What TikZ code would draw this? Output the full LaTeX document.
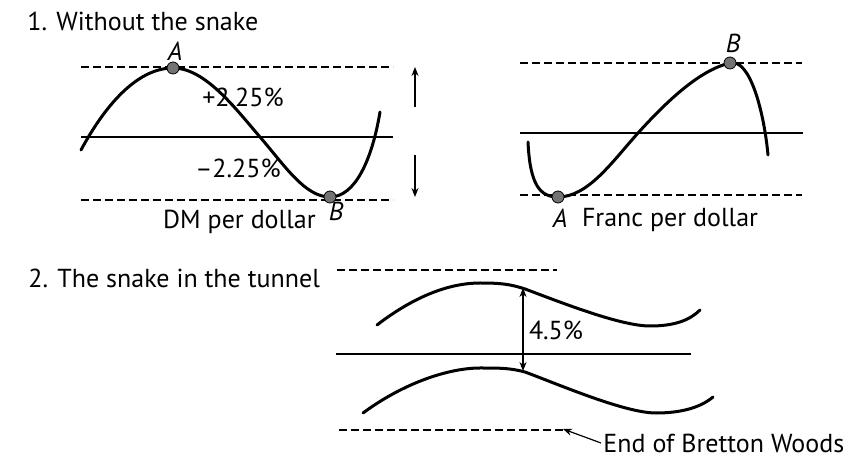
\documentclass[tikz,border=0pt]{standalone}
\usepackage{fontspec}
\setmainfont{PT Sans}
\usetikzlibrary{arrows.meta}

\begin{document}
\begin{tikzpicture}[x=0.5pt,y=-0.5pt,font=\fontsize{13}{15}\selectfont,
  band/.style={dash pattern=on 4pt off 2pt,line width=0.8pt},
  axis/.style={line width=0.8pt},
  curve/.style={line width=1.5pt,line cap=round},
  dot/.style={circle,draw=black,fill=black!55,inner sep=0pt,minimum size=6pt},
  pt/.style={font=\fontsize{13}{15}\selectfont\itshape,inner sep=1pt},
  arr/.style={-{Stealth[length=4.5pt,width=3.5pt]},line width=0.6pt}]
  \useasboundingbox (0,0) rectangle (855,458);
  % 1. without the snake, DM
  \node[anchor=west,inner sep=0pt] (t1) at (27,21) {1. Without the snake};
  \draw[band] (81,67) -- (393,67);
  \draw[band] (81,200) -- (393,200);
  \draw[axis] (81,137) -- (393,137);
  \draw[curve] (81,150) .. controls (108,100) and (140,68) .. (173,68)
    .. controls (205,68) and (235,108) .. (260,137)
    .. controls (285,166) and (305,197) .. (330,197)
    .. controls (355,197) and (372,160) .. (380,112);
  \node[dot] (dA) at (173,68) {};
  \node[dot] (dB) at (330,197) {};
  \node[pt] (lA) at (175,51) {A};
  \node[pt] (lB) at (336,211) {B};
  \node (up1) at (243,97) {+2.25\%};
  \node (dn1) at (238,168) {--2.25\%};
  \node[anchor=east,inner sep=0pt] (dm) at (316,222) {DM per dollar};
  \coordinate (a1) at (415,107);
  \coordinate (a2) at (415,67);
  \coordinate (a3) at (415,155);
  \coordinate (a4) at (415,197);
  \draw[arr] (a1) -- (a2);
  \draw[arr] (a3) -- (a4);
  % franc
  \draw[band] (520,63) -- (802,63);
  \draw[band] (520,195) -- (802,195);
  \draw[axis] (520,133) -- (803,133);
  \draw[curve] (528,142) .. controls (530,185) and (540,197) .. (558,197)
    .. controls (588,197) and (612,162) .. (638,133)
    .. controls (668,100) and (700,70) .. (730,63)
    .. controls (750,58) and (764,112) .. (768,155);
  \node[dot] (fA) at (558,197) {};
  \node[dot] (fB) at (730,63) {};
  \node[pt] (mA) at (560,218) {A};
  \node[pt] (mB) at (733,43) {B};
  \node (fr) at (670,220) {Franc per dollar};
  % 2. the snake in the tunnel
  \node[anchor=west,inner sep=0pt] (t2) at (28,278) {2. The snake in the tunnel};
  \draw[band] (337,270) -- (557,270);
  \draw[curve] (377,325) .. controls (420,292) and (455,283) .. (480,283)
    .. controls (500,283) and (510,284) .. (525,289)
    .. controls (560,302) and (620,326) .. (650,326)
    .. controls (675,326) and (690,320) .. (700,310);
  \draw[axis] (336,354) -- (691,354);
  \draw[curve] (363,413) .. controls (405,382) and (450,368) .. (480,368)
    .. controls (500,368) and (510,368) .. (525,372)
    .. controls (560,385) and (625,413) .. (656,413)
    .. controls (680,413) and (700,408) .. (713,397);
  \draw[band] (339,430) -- (563,430);
  \coordinate (s1) at (523,288);
  \coordinate (s2) at (523,371);
  \draw[arr,{Stealth[length=4.5pt,width=3.5pt]}-{Stealth[length=4.5pt,width=3.5pt]}] (s1) -- (s2);
  \node (pc) at (556,330) {4.5\%};
  \node[anchor=west,inner sep=0pt] (ebw) at (603,443) {End of Bretton Woods};
  \coordinate (de) at (563,429);
  \draw[arr] (ebw.west) ++(-2,0) coordinate (et) (et) -- (de);
\end{tikzpicture}
\end{document}
